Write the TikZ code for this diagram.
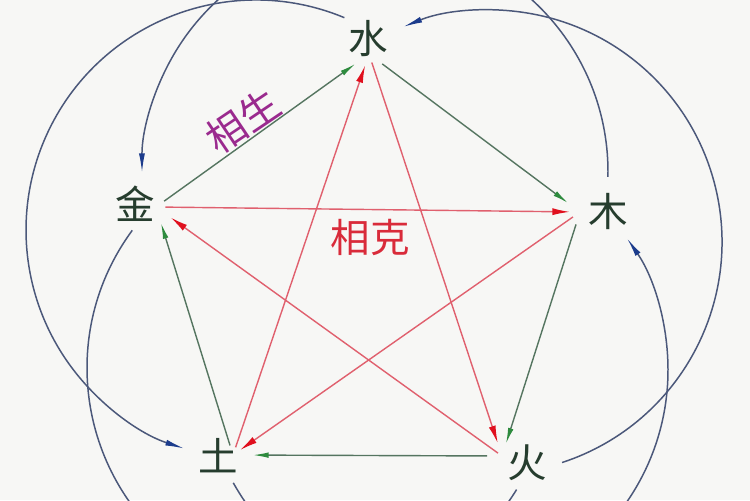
\documentclass[tikz,border=0pt]{standalone}
\usepackage{fontspec}
\newfontfamily\cjk{Noto Sans CJK SC}
\usetikzlibrary{arrows.meta,calc}
\definecolor{bg}{HTML}{F7F7F5}
\definecolor{elemc}{HTML}{263D2E}
\definecolor{gline}{HTML}{557560}
\definecolor{gtip}{HTML}{2E8B3E}
\definecolor{rline}{HTML}{E0606E}
\definecolor{rtip}{HTML}{E0101E}
\definecolor{bline}{HTML}{4B587A}
\definecolor{btip}{HTML}{1C3C8C}
\definecolor{shengc}{HTML}{9A2A8E}
\definecolor{kec}{HTML}{D92B3A}
\begin{document}
\begin{tikzpicture}[x=0.02cm,y=-0.02cm,
  elem/.style={font=\cjk\fontsize{22.5}{24}\selectfont, text=elemc, inner sep=0pt},
  lbl/.style={font=\cjk\fontsize{22.5}{24}\selectfont, inner sep=0pt},
  gen/.style={draw=gline, line width=0.8pt, -{Latex[length=9pt,width=3.2pt,color=gtip]}},
  ctl/.style={draw=rline, line width=0.8pt, -{Latex[length=10pt,width=4pt,color=rtip]}},
  arcl/.style={draw=bline, line width=0.85pt},
  arca/.style={arcl, -{Latex[length=11pt,width=3.4pt,color=btip]}},
]
\useasboundingbox (0,0) rectangle (750,500);
\fill[bg] (0,0) rectangle (750,500);
\clip (0,0) rectangle (750,500);

% element nodes
\node[elem] (shui) at (368,39) {水};
\node[elem] (mu)   at (608,211) {木};
\node[elem] (huo)  at (527,463) {火};
\node[elem] (tu)   at (218,456) {土};
\node[elem] (jin)  at (135,204) {金};

% labels
\node[lbl, text=shengc, rotate=34] (lsheng) at (243,121) {相生};
\node[lbl, text=kec] (lke) at (370,237) {相克};

% hubs where the straight connectors meet
\coordinate (jH) at ([shift={(21,3)}]jin.center);
\coordinate (sH) at ([shift={(1,15)}]shui.center);
\coordinate (mH) at ([shift={(-28,1)}]mu.center);
\coordinate (hH) at ([shift={(-25,-7)}]huo.center);
\coordinate (tH) at ([shift={(15,-1)}]tu.center);

% generating cycle (green pentagon)
\draw[gen, shorten <=5.7pt, shorten >=9.6pt] (jH) -- (sH);
\draw[gen, shorten <=9.4pt, shorten >=8.5pt] (sH) -- (mH);
\draw[gen, shorten <=7.4pt, shorten >=7.4pt] (mH) -- (hH);
\draw[gen, shorten <=8.5pt, shorten >=11.3pt] (hH) -- (tH);
\draw[gen, shorten <=5.7pt, shorten >=9.6pt] (tH) -- (jH);

% controlling cycle (red star)
\draw[ctl, shorten <=5.4pt, shorten >=5.7pt] (jH) -- (mH);
\draw[ctl, shorten <=4.9pt, shorten >=4.9pt] (mH) -- (tH);
\draw[ctl, shorten <=4.6pt, shorten >=6.8pt] (tH) -- (sH);
\draw[ctl, shorten <=5.1pt, shorten >=7.7pt] (sH) -- (hH);
\draw[ctl, shorten <=2.8pt, shorten >=10.2pt] (hH) -- (jH);

% centres of the outer blue circles
\coordinate (c1) at (256,230);
\coordinate (c2) at (490,242);
\coordinate (c3) at (375,172);
\coordinate (c4) at (436,370);
\coordinate (c5) at (319,368);

% outer blue arcs
\draw[arca] (c1) ++(-67.4:230) arc[start angle=-67.4, end angle=-251.9, radius=230]; % water -> earth
\draw[arca] (c2) ++(71.9:232) arc[start angle=71.9, end angle=-112, radius=232];     % fire -> water
\draw[arca] (c3) ++(1.2:233) arc[start angle=1.2, end angle=-180.2, radius=233];     % wood -> metal
\draw[arca] (c4) ++(150.9:232) arc[start angle=150.9, end angle=-34.6, radius=232];  % earth -> wood
\draw[arcl] (c5) ++(216.4:232) arc[start angle=216.4, end angle=31.6, radius=232];   % metal -> fire
\end{tikzpicture}
\end{document}
